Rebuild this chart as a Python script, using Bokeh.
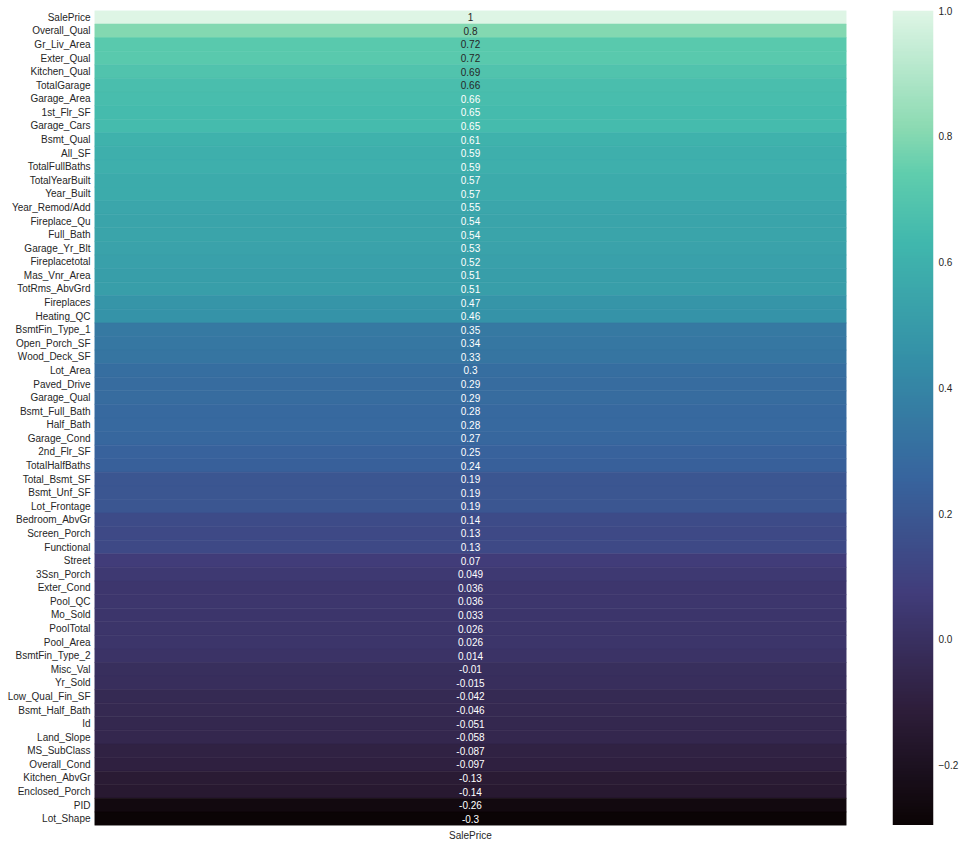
import numpy as np
from bokeh.plotting import figure
from bokeh.models import (FactorRange, LinearColorMapper, ColumnDataSource,
                          FixedTicker, CustomJSTickFormatter, LinearAxis, Range1d)
from bokeh.layouts import row
from bokeh.embed import file_html
from bokeh.resources import INLINE
from bokeh.core.properties import value

# ---------------- data ----------------
features = [
    "SalePrice", "Overall_Qual", "Gr_Liv_Area", "Exter_Qual", "Kitchen_Qual",
    "TotalGarage", "Garage_Area", "1st_Flr_SF", "Garage_Cars", "Bsmt_Qual",
    "All_SF", "TotalFullBaths", "TotalYearBuilt", "Year_Built", "Year_Remod/Add",
    "Fireplace_Qu", "Full_Bath", "Garage_Yr_Blt", "Fireplacetotal", "Mas_Vnr_Area",
    "TotRms_AbvGrd", "Fireplaces", "Heating_QC", "BsmtFin_Type_1", "Open_Porch_SF",
    "Wood_Deck_SF", "Lot_Area", "Paved_Drive", "Garage_Qual", "Bsmt_Full_Bath",
    "Half_Bath", "Garage_Cond", "2nd_Flr_SF", "TotalHalfBaths", "Total_Bsmt_SF",
    "Bsmt_Unf_SF", "Lot_Frontage", "Bedroom_AbvGr", "Screen_Porch", "Functional",
    "Street", "3Ssn_Porch", "Exter_Cond", "Pool_QC", "Mo_Sold",
    "PoolTotal", "Pool_Area", "BsmtFin_Type_2", "Misc_Val", "Yr_Sold",
    "Low_Qual_Fin_SF", "Bsmt_Half_Bath", "Id", "Land_Slope", "MS_SubClass",
    "Overall_Cond", "Kitchen_AbvGr", "Enclosed_Porch", "PID", "Lot_Shape",
]
corr_saleprice = [
    1.0, 0.80, 0.72, 0.72, 0.69,
    0.664, 0.656, 0.65, 0.65, 0.61,
    0.59, 0.59, 0.57, 0.57, 0.55,
    0.54, 0.54, 0.53, 0.52, 0.51,
    0.51, 0.47, 0.46, 0.35, 0.34,
    0.33, 0.30, 0.29, 0.29, 0.28,
    0.28, 0.27, 0.25, 0.24, 0.19,
    0.19, 0.19, 0.14, 0.13, 0.13,
    0.07, 0.049, 0.036, 0.036, 0.033,
    0.026, 0.026, 0.014, -0.010, -0.015,
    -0.042, -0.046, -0.051, -0.058, -0.087,
    -0.097, -0.13, -0.14, -0.26, -0.296,
]
column_name = "SalePrice"
colorbar_ticks = [-0.2, 0.0, 0.2, 0.4, 0.6, 0.8, 1.0]

# ---------------- colormap (mako approximation) ----------------
anchor_pos = [0.0, 1/7, 2/7, 3/7, 4/7, 5/7, 0.80, 6/7, 1.0]
anchor_hex = ["#0b0405", "#2e1e3b", "#413d7b", "#37659e",
              "#348fa7", "#40b7ad", "#5fcdad", "#8bdab2", "#def5e5"]
anchor_rgb = np.array([[int(h[i:i+2], 16) for i in (1, 3, 5)] for h in anchor_hex], float)
N = 256
tt = np.linspace(0, 1, N)
lut = np.stack([np.interp(tt, anchor_pos, anchor_rgb[:, k]) for k in range(3)], axis=1)
palette = ["#%02x%02x%02x" % tuple(int(round(c)) for c in rgb) for rgb in lut]

vmin = min(corr_saleprice)
vmax = max(corr_saleprice)
mapper = LinearColorMapper(palette=palette, low=vmin, high=vmax)


def lum(rgb):
    c = np.asarray(rgb, float) / 255.0
    c = np.where(c <= 0.03928, c / 12.92, ((c + 0.055) / 1.055) ** 2.4)
    return 0.2126 * c[0] + 0.7152 * c[1] + 0.0722 * c[2]


text_colors = []
labels = []
for v in corr_saleprice:
    t = (v - vmin) / (vmax - vmin)
    rgb = [np.interp(t, anchor_pos, anchor_rgb[:, k]) for k in range(3)]
    text_colors.append("#262626" if lum(rgb) > 0.408 else "#ffffff")
    labels.append(format(v, ".2g"))

src = ColumnDataSource(dict(
    x=[column_name] * len(features), y=features, v=corr_saleprice,
    lab=labels, tc=text_colors,
))

FONT = "Liberation Sans"
TXT = "#262626"
TOP = 10
FRAME_H = 815
yr = FactorRange(factors=list(reversed(features)))

# ---------------- row labels ----------------
lab = figure(
    frame_width=94, frame_height=FRAME_H,
    x_range=Range1d(0, 1), y_range=yr,
    output_backend="svg", toolbar_location=None,
    min_border_left=0, min_border_right=0, min_border_top=TOP, min_border_bottom=0,
    x_axis_location=None, y_axis_location=None,
)
lab.text(x=[1] * len(features), y=features, text=features, x_offset=-4,
         text_align="right", text_baseline="middle",
         text_font=value(FONT), text_font_size="10px", text_color=TXT)
lab.outline_line_color = None
lab.grid.grid_line_color = None

# ---------------- heatmap ----------------
p = figure(
    frame_width=752, frame_height=FRAME_H,
    x_range=FactorRange(factors=[column_name]), y_range=yr,
    output_backend="svg", toolbar_location=None,
    min_border_left=0, min_border_right=46, min_border_top=TOP, min_border_bottom=4,
    y_axis_location=None,
)
p.rect(x="x", y="y", width=1, height=1, source=src,
       fill_color={"field": "v", "transform": mapper},
       line_color={"field": "v", "transform": mapper}, line_width=0.6)
p.text(x="x", y="y", text="lab", source=src, text_color="tc",
       text_align="center", text_baseline="middle",
       text_font=value(FONT), text_font_size="10px")
p.outline_line_color = None
p.grid.grid_line_color = None
ax = p.xaxis[0]
ax.axis_line_color = None
ax.major_tick_line_color = None
ax.minor_tick_line_color = None
ax.major_tick_out = 0
ax.major_tick_in = 0
ax.major_label_standoff = 4
ax.major_label_text_font = FONT
ax.major_label_text_font_size = "10px"
ax.major_label_text_color = TXT

# ---------------- colorbar ----------------
cb = figure(
    frame_width=41, frame_height=FRAME_H,
    x_range=Range1d(0, 1), y_range=Range1d(vmin, vmax),
    output_backend="svg", toolbar_location=None,
    min_border_left=0, min_border_right=26, min_border_top=TOP, min_border_bottom=0,
    x_axis_type=None, y_axis_location=None,
)
cb.image(image=[np.linspace(vmin, vmax, N).reshape(-1, 1)], x=0, y=vmin,
         dw=1, dh=vmax - vmin, color_mapper=mapper)
cb.outline_line_color = None
cb.grid.grid_line_color = None
rax = LinearAxis(ticker=FixedTicker(ticks=colorbar_ticks))
rax.formatter = CustomJSTickFormatter(code="return tick.toFixed(1).replace('-', '\u2212');")
rax.axis_line_color = None
rax.major_tick_line_color = None
rax.minor_tick_line_color = None
rax.major_tick_out = 0
rax.major_tick_in = 0
rax.major_label_standoff = 5
rax.major_label_text_font = FONT
rax.major_label_text_font_size = "10px"
rax.major_label_text_color = TXT
cb.add_layout(rax, "right")

layout = row(lab, p, cb, spacing=0)
open("out.html", "w").write(file_html(layout, INLINE))
